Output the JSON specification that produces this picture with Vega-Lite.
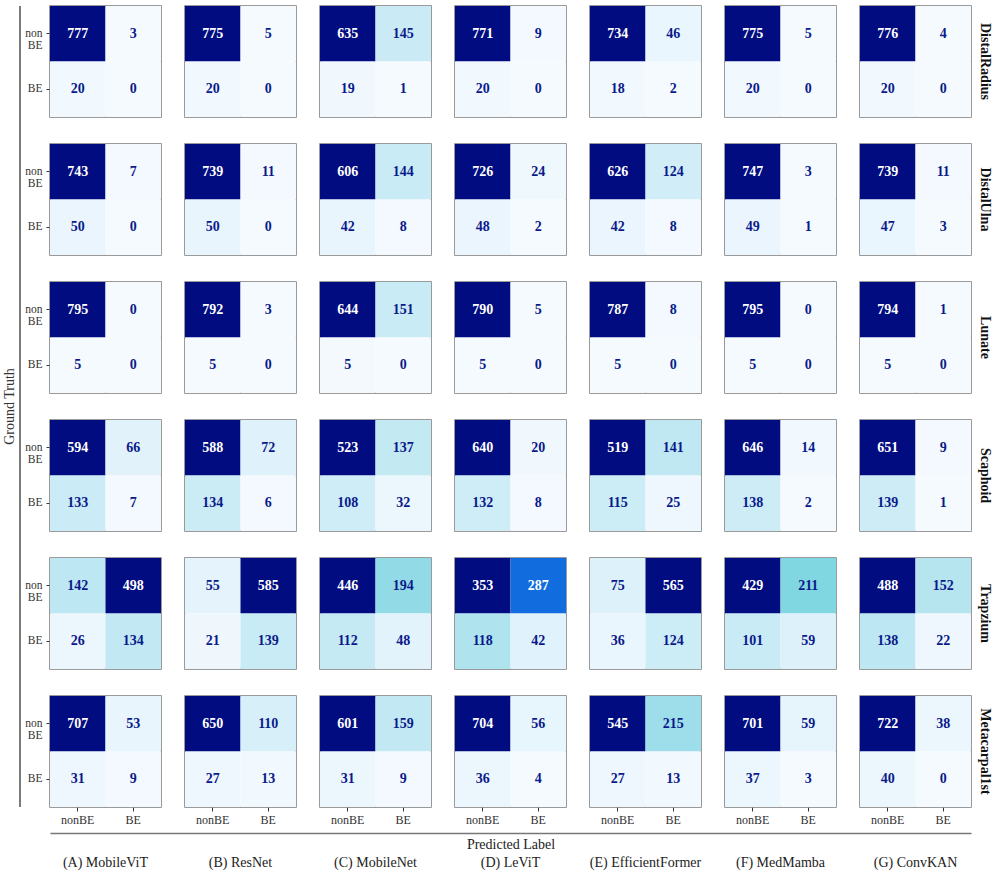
{
  "$schema": "https://vega.github.io/schema/vega-lite/v6.json",
  "padding": {"left": 3, "top": 5, "right": 4, "bottom": 4},
  "config": {
    "font": "Liberation Serif",
    "view": {"stroke": "#7a7a7a", "strokeWidth": 1.5},
    "axis": {"labelFont": "Liberation Serif", "titleFont": "Liberation Serif"}
  },
  "datasets": {
    "models": [
      {"model": "(A) MobileViT"}, {"model": "(B) ResNet"}, {"model": "(C) MobileNet"}, {"model": "(D) LeViT"},
      {"model": "(E) EfficientFormer"}, {"model": "(F) MedMamba"}, {"model": "(G) ConvKAN"}
    ],
    "cm": [
      {"region": "DistalRadius", "model": "(A) MobileViT", "truth": "nonBE", "pred": "nonBE", "count": 777},
      {"region": "DistalRadius", "model": "(A) MobileViT", "truth": "nonBE", "pred": "BE", "count": 3},
      {"region": "DistalRadius", "model": "(A) MobileViT", "truth": "BE", "pred": "nonBE", "count": 20},
      {"region": "DistalRadius", "model": "(A) MobileViT", "truth": "BE", "pred": "BE", "count": 0},
      {"region": "DistalRadius", "model": "(B) ResNet", "truth": "nonBE", "pred": "nonBE", "count": 775},
      {"region": "DistalRadius", "model": "(B) ResNet", "truth": "nonBE", "pred": "BE", "count": 5},
      {"region": "DistalRadius", "model": "(B) ResNet", "truth": "BE", "pred": "nonBE", "count": 20},
      {"region": "DistalRadius", "model": "(B) ResNet", "truth": "BE", "pred": "BE", "count": 0},
      {"region": "DistalRadius", "model": "(C) MobileNet", "truth": "nonBE", "pred": "nonBE", "count": 635},
      {"region": "DistalRadius", "model": "(C) MobileNet", "truth": "nonBE", "pred": "BE", "count": 145},
      {"region": "DistalRadius", "model": "(C) MobileNet", "truth": "BE", "pred": "nonBE", "count": 19},
      {"region": "DistalRadius", "model": "(C) MobileNet", "truth": "BE", "pred": "BE", "count": 1},
      {"region": "DistalRadius", "model": "(D) LeViT", "truth": "nonBE", "pred": "nonBE", "count": 771},
      {"region": "DistalRadius", "model": "(D) LeViT", "truth": "nonBE", "pred": "BE", "count": 9},
      {"region": "DistalRadius", "model": "(D) LeViT", "truth": "BE", "pred": "nonBE", "count": 20},
      {"region": "DistalRadius", "model": "(D) LeViT", "truth": "BE", "pred": "BE", "count": 0},
      {"region": "DistalRadius", "model": "(E) EfficientFormer", "truth": "nonBE", "pred": "nonBE", "count": 734},
      {"region": "DistalRadius", "model": "(E) EfficientFormer", "truth": "nonBE", "pred": "BE", "count": 46},
      {"region": "DistalRadius", "model": "(E) EfficientFormer", "truth": "BE", "pred": "nonBE", "count": 18},
      {"region": "DistalRadius", "model": "(E) EfficientFormer", "truth": "BE", "pred": "BE", "count": 2},
      {"region": "DistalRadius", "model": "(F) MedMamba", "truth": "nonBE", "pred": "nonBE", "count": 775},
      {"region": "DistalRadius", "model": "(F) MedMamba", "truth": "nonBE", "pred": "BE", "count": 5},
      {"region": "DistalRadius", "model": "(F) MedMamba", "truth": "BE", "pred": "nonBE", "count": 20},
      {"region": "DistalRadius", "model": "(F) MedMamba", "truth": "BE", "pred": "BE", "count": 0},
      {"region": "DistalRadius", "model": "(G) ConvKAN", "truth": "nonBE", "pred": "nonBE", "count": 776},
      {"region": "DistalRadius", "model": "(G) ConvKAN", "truth": "nonBE", "pred": "BE", "count": 4},
      {"region": "DistalRadius", "model": "(G) ConvKAN", "truth": "BE", "pred": "nonBE", "count": 20},
      {"region": "DistalRadius", "model": "(G) ConvKAN", "truth": "BE", "pred": "BE", "count": 0},

      {"region": "DistalUlna", "model": "(A) MobileViT", "truth": "nonBE", "pred": "nonBE", "count": 743},
      {"region": "DistalUlna", "model": "(A) MobileViT", "truth": "nonBE", "pred": "BE", "count": 7},
      {"region": "DistalUlna", "model": "(A) MobileViT", "truth": "BE", "pred": "nonBE", "count": 50},
      {"region": "DistalUlna", "model": "(A) MobileViT", "truth": "BE", "pred": "BE", "count": 0},
      {"region": "DistalUlna", "model": "(B) ResNet", "truth": "nonBE", "pred": "nonBE", "count": 739},
      {"region": "DistalUlna", "model": "(B) ResNet", "truth": "nonBE", "pred": "BE", "count": 11},
      {"region": "DistalUlna", "model": "(B) ResNet", "truth": "BE", "pred": "nonBE", "count": 50},
      {"region": "DistalUlna", "model": "(B) ResNet", "truth": "BE", "pred": "BE", "count": 0},
      {"region": "DistalUlna", "model": "(C) MobileNet", "truth": "nonBE", "pred": "nonBE", "count": 606},
      {"region": "DistalUlna", "model": "(C) MobileNet", "truth": "nonBE", "pred": "BE", "count": 144},
      {"region": "DistalUlna", "model": "(C) MobileNet", "truth": "BE", "pred": "nonBE", "count": 42},
      {"region": "DistalUlna", "model": "(C) MobileNet", "truth": "BE", "pred": "BE", "count": 8},
      {"region": "DistalUlna", "model": "(D) LeViT", "truth": "nonBE", "pred": "nonBE", "count": 726},
      {"region": "DistalUlna", "model": "(D) LeViT", "truth": "nonBE", "pred": "BE", "count": 24},
      {"region": "DistalUlna", "model": "(D) LeViT", "truth": "BE", "pred": "nonBE", "count": 48},
      {"region": "DistalUlna", "model": "(D) LeViT", "truth": "BE", "pred": "BE", "count": 2},
      {"region": "DistalUlna", "model": "(E) EfficientFormer", "truth": "nonBE", "pred": "nonBE", "count": 626},
      {"region": "DistalUlna", "model": "(E) EfficientFormer", "truth": "nonBE", "pred": "BE", "count": 124},
      {"region": "DistalUlna", "model": "(E) EfficientFormer", "truth": "BE", "pred": "nonBE", "count": 42},
      {"region": "DistalUlna", "model": "(E) EfficientFormer", "truth": "BE", "pred": "BE", "count": 8},
      {"region": "DistalUlna", "model": "(F) MedMamba", "truth": "nonBE", "pred": "nonBE", "count": 747},
      {"region": "DistalUlna", "model": "(F) MedMamba", "truth": "nonBE", "pred": "BE", "count": 3},
      {"region": "DistalUlna", "model": "(F) MedMamba", "truth": "BE", "pred": "nonBE", "count": 49},
      {"region": "DistalUlna", "model": "(F) MedMamba", "truth": "BE", "pred": "BE", "count": 1},
      {"region": "DistalUlna", "model": "(G) ConvKAN", "truth": "nonBE", "pred": "nonBE", "count": 739},
      {"region": "DistalUlna", "model": "(G) ConvKAN", "truth": "nonBE", "pred": "BE", "count": 11},
      {"region": "DistalUlna", "model": "(G) ConvKAN", "truth": "BE", "pred": "nonBE", "count": 47},
      {"region": "DistalUlna", "model": "(G) ConvKAN", "truth": "BE", "pred": "BE", "count": 3},

      {"region": "Lunate", "model": "(A) MobileViT", "truth": "nonBE", "pred": "nonBE", "count": 795},
      {"region": "Lunate", "model": "(A) MobileViT", "truth": "nonBE", "pred": "BE", "count": 0},
      {"region": "Lunate", "model": "(A) MobileViT", "truth": "BE", "pred": "nonBE", "count": 5},
      {"region": "Lunate", "model": "(A) MobileViT", "truth": "BE", "pred": "BE", "count": 0},
      {"region": "Lunate", "model": "(B) ResNet", "truth": "nonBE", "pred": "nonBE", "count": 792},
      {"region": "Lunate", "model": "(B) ResNet", "truth": "nonBE", "pred": "BE", "count": 3},
      {"region": "Lunate", "model": "(B) ResNet", "truth": "BE", "pred": "nonBE", "count": 5},
      {"region": "Lunate", "model": "(B) ResNet", "truth": "BE", "pred": "BE", "count": 0},
      {"region": "Lunate", "model": "(C) MobileNet", "truth": "nonBE", "pred": "nonBE", "count": 644},
      {"region": "Lunate", "model": "(C) MobileNet", "truth": "nonBE", "pred": "BE", "count": 151},
      {"region": "Lunate", "model": "(C) MobileNet", "truth": "BE", "pred": "nonBE", "count": 5},
      {"region": "Lunate", "model": "(C) MobileNet", "truth": "BE", "pred": "BE", "count": 0},
      {"region": "Lunate", "model": "(D) LeViT", "truth": "nonBE", "pred": "nonBE", "count": 790},
      {"region": "Lunate", "model": "(D) LeViT", "truth": "nonBE", "pred": "BE", "count": 5},
      {"region": "Lunate", "model": "(D) LeViT", "truth": "BE", "pred": "nonBE", "count": 5},
      {"region": "Lunate", "model": "(D) LeViT", "truth": "BE", "pred": "BE", "count": 0},
      {"region": "Lunate", "model": "(E) EfficientFormer", "truth": "nonBE", "pred": "nonBE", "count": 787},
      {"region": "Lunate", "model": "(E) EfficientFormer", "truth": "nonBE", "pred": "BE", "count": 8},
      {"region": "Lunate", "model": "(E) EfficientFormer", "truth": "BE", "pred": "nonBE", "count": 5},
      {"region": "Lunate", "model": "(E) EfficientFormer", "truth": "BE", "pred": "BE", "count": 0},
      {"region": "Lunate", "model": "(F) MedMamba", "truth": "nonBE", "pred": "nonBE", "count": 795},
      {"region": "Lunate", "model": "(F) MedMamba", "truth": "nonBE", "pred": "BE", "count": 0},
      {"region": "Lunate", "model": "(F) MedMamba", "truth": "BE", "pred": "nonBE", "count": 5},
      {"region": "Lunate", "model": "(F) MedMamba", "truth": "BE", "pred": "BE", "count": 0},
      {"region": "Lunate", "model": "(G) ConvKAN", "truth": "nonBE", "pred": "nonBE", "count": 794},
      {"region": "Lunate", "model": "(G) ConvKAN", "truth": "nonBE", "pred": "BE", "count": 1},
      {"region": "Lunate", "model": "(G) ConvKAN", "truth": "BE", "pred": "nonBE", "count": 5},
      {"region": "Lunate", "model": "(G) ConvKAN", "truth": "BE", "pred": "BE", "count": 0},

      {"region": "Scaphoid", "model": "(A) MobileViT", "truth": "nonBE", "pred": "nonBE", "count": 594},
      {"region": "Scaphoid", "model": "(A) MobileViT", "truth": "nonBE", "pred": "BE", "count": 66},
      {"region": "Scaphoid", "model": "(A) MobileViT", "truth": "BE", "pred": "nonBE", "count": 133},
      {"region": "Scaphoid", "model": "(A) MobileViT", "truth": "BE", "pred": "BE", "count": 7},
      {"region": "Scaphoid", "model": "(B) ResNet", "truth": "nonBE", "pred": "nonBE", "count": 588},
      {"region": "Scaphoid", "model": "(B) ResNet", "truth": "nonBE", "pred": "BE", "count": 72},
      {"region": "Scaphoid", "model": "(B) ResNet", "truth": "BE", "pred": "nonBE", "count": 134},
      {"region": "Scaphoid", "model": "(B) ResNet", "truth": "BE", "pred": "BE", "count": 6},
      {"region": "Scaphoid", "model": "(C) MobileNet", "truth": "nonBE", "pred": "nonBE", "count": 523},
      {"region": "Scaphoid", "model": "(C) MobileNet", "truth": "nonBE", "pred": "BE", "count": 137},
      {"region": "Scaphoid", "model": "(C) MobileNet", "truth": "BE", "pred": "nonBE", "count": 108},
      {"region": "Scaphoid", "model": "(C) MobileNet", "truth": "BE", "pred": "BE", "count": 32},
      {"region": "Scaphoid", "model": "(D) LeViT", "truth": "nonBE", "pred": "nonBE", "count": 640},
      {"region": "Scaphoid", "model": "(D) LeViT", "truth": "nonBE", "pred": "BE", "count": 20},
      {"region": "Scaphoid", "model": "(D) LeViT", "truth": "BE", "pred": "nonBE", "count": 132},
      {"region": "Scaphoid", "model": "(D) LeViT", "truth": "BE", "pred": "BE", "count": 8},
      {"region": "Scaphoid", "model": "(E) EfficientFormer", "truth": "nonBE", "pred": "nonBE", "count": 519},
      {"region": "Scaphoid", "model": "(E) EfficientFormer", "truth": "nonBE", "pred": "BE", "count": 141},
      {"region": "Scaphoid", "model": "(E) EfficientFormer", "truth": "BE", "pred": "nonBE", "count": 115},
      {"region": "Scaphoid", "model": "(E) EfficientFormer", "truth": "BE", "pred": "BE", "count": 25},
      {"region": "Scaphoid", "model": "(F) MedMamba", "truth": "nonBE", "pred": "nonBE", "count": 646},
      {"region": "Scaphoid", "model": "(F) MedMamba", "truth": "nonBE", "pred": "BE", "count": 14},
      {"region": "Scaphoid", "model": "(F) MedMamba", "truth": "BE", "pred": "nonBE", "count": 138},
      {"region": "Scaphoid", "model": "(F) MedMamba", "truth": "BE", "pred": "BE", "count": 2},
      {"region": "Scaphoid", "model": "(G) ConvKAN", "truth": "nonBE", "pred": "nonBE", "count": 651},
      {"region": "Scaphoid", "model": "(G) ConvKAN", "truth": "nonBE", "pred": "BE", "count": 9},
      {"region": "Scaphoid", "model": "(G) ConvKAN", "truth": "BE", "pred": "nonBE", "count": 139},
      {"region": "Scaphoid", "model": "(G) ConvKAN", "truth": "BE", "pred": "BE", "count": 1},

      {"region": "Trapzium", "model": "(A) MobileViT", "truth": "nonBE", "pred": "nonBE", "count": 142},
      {"region": "Trapzium", "model": "(A) MobileViT", "truth": "nonBE", "pred": "BE", "count": 498},
      {"region": "Trapzium", "model": "(A) MobileViT", "truth": "BE", "pred": "nonBE", "count": 26},
      {"region": "Trapzium", "model": "(A) MobileViT", "truth": "BE", "pred": "BE", "count": 134},
      {"region": "Trapzium", "model": "(B) ResNet", "truth": "nonBE", "pred": "nonBE", "count": 55},
      {"region": "Trapzium", "model": "(B) ResNet", "truth": "nonBE", "pred": "BE", "count": 585},
      {"region": "Trapzium", "model": "(B) ResNet", "truth": "BE", "pred": "nonBE", "count": 21},
      {"region": "Trapzium", "model": "(B) ResNet", "truth": "BE", "pred": "BE", "count": 139},
      {"region": "Trapzium", "model": "(C) MobileNet", "truth": "nonBE", "pred": "nonBE", "count": 446},
      {"region": "Trapzium", "model": "(C) MobileNet", "truth": "nonBE", "pred": "BE", "count": 194},
      {"region": "Trapzium", "model": "(C) MobileNet", "truth": "BE", "pred": "nonBE", "count": 112},
      {"region": "Trapzium", "model": "(C) MobileNet", "truth": "BE", "pred": "BE", "count": 48},
      {"region": "Trapzium", "model": "(D) LeViT", "truth": "nonBE", "pred": "nonBE", "count": 353},
      {"region": "Trapzium", "model": "(D) LeViT", "truth": "nonBE", "pred": "BE", "count": 287},
      {"region": "Trapzium", "model": "(D) LeViT", "truth": "BE", "pred": "nonBE", "count": 118},
      {"region": "Trapzium", "model": "(D) LeViT", "truth": "BE", "pred": "BE", "count": 42},
      {"region": "Trapzium", "model": "(E) EfficientFormer", "truth": "nonBE", "pred": "nonBE", "count": 75},
      {"region": "Trapzium", "model": "(E) EfficientFormer", "truth": "nonBE", "pred": "BE", "count": 565},
      {"region": "Trapzium", "model": "(E) EfficientFormer", "truth": "BE", "pred": "nonBE", "count": 36},
      {"region": "Trapzium", "model": "(E) EfficientFormer", "truth": "BE", "pred": "BE", "count": 124},
      {"region": "Trapzium", "model": "(F) MedMamba", "truth": "nonBE", "pred": "nonBE", "count": 429},
      {"region": "Trapzium", "model": "(F) MedMamba", "truth": "nonBE", "pred": "BE", "count": 211},
      {"region": "Trapzium", "model": "(F) MedMamba", "truth": "BE", "pred": "nonBE", "count": 101},
      {"region": "Trapzium", "model": "(F) MedMamba", "truth": "BE", "pred": "BE", "count": 59},
      {"region": "Trapzium", "model": "(G) ConvKAN", "truth": "nonBE", "pred": "nonBE", "count": 488},
      {"region": "Trapzium", "model": "(G) ConvKAN", "truth": "nonBE", "pred": "BE", "count": 152},
      {"region": "Trapzium", "model": "(G) ConvKAN", "truth": "BE", "pred": "nonBE", "count": 138},
      {"region": "Trapzium", "model": "(G) ConvKAN", "truth": "BE", "pred": "BE", "count": 22},

      {"region": "Metacarpal1st", "model": "(A) MobileViT", "truth": "nonBE", "pred": "nonBE", "count": 707},
      {"region": "Metacarpal1st", "model": "(A) MobileViT", "truth": "nonBE", "pred": "BE", "count": 53},
      {"region": "Metacarpal1st", "model": "(A) MobileViT", "truth": "BE", "pred": "nonBE", "count": 31},
      {"region": "Metacarpal1st", "model": "(A) MobileViT", "truth": "BE", "pred": "BE", "count": 9},
      {"region": "Metacarpal1st", "model": "(B) ResNet", "truth": "nonBE", "pred": "nonBE", "count": 650},
      {"region": "Metacarpal1st", "model": "(B) ResNet", "truth": "nonBE", "pred": "BE", "count": 110},
      {"region": "Metacarpal1st", "model": "(B) ResNet", "truth": "BE", "pred": "nonBE", "count": 27},
      {"region": "Metacarpal1st", "model": "(B) ResNet", "truth": "BE", "pred": "BE", "count": 13},
      {"region": "Metacarpal1st", "model": "(C) MobileNet", "truth": "nonBE", "pred": "nonBE", "count": 601},
      {"region": "Metacarpal1st", "model": "(C) MobileNet", "truth": "nonBE", "pred": "BE", "count": 159},
      {"region": "Metacarpal1st", "model": "(C) MobileNet", "truth": "BE", "pred": "nonBE", "count": 31},
      {"region": "Metacarpal1st", "model": "(C) MobileNet", "truth": "BE", "pred": "BE", "count": 9},
      {"region": "Metacarpal1st", "model": "(D) LeViT", "truth": "nonBE", "pred": "nonBE", "count": 704},
      {"region": "Metacarpal1st", "model": "(D) LeViT", "truth": "nonBE", "pred": "BE", "count": 56},
      {"region": "Metacarpal1st", "model": "(D) LeViT", "truth": "BE", "pred": "nonBE", "count": 36},
      {"region": "Metacarpal1st", "model": "(D) LeViT", "truth": "BE", "pred": "BE", "count": 4},
      {"region": "Metacarpal1st", "model": "(E) EfficientFormer", "truth": "nonBE", "pred": "nonBE", "count": 545},
      {"region": "Metacarpal1st", "model": "(E) EfficientFormer", "truth": "nonBE", "pred": "BE", "count": 215},
      {"region": "Metacarpal1st", "model": "(E) EfficientFormer", "truth": "BE", "pred": "nonBE", "count": 27},
      {"region": "Metacarpal1st", "model": "(E) EfficientFormer", "truth": "BE", "pred": "BE", "count": 13},
      {"region": "Metacarpal1st", "model": "(F) MedMamba", "truth": "nonBE", "pred": "nonBE", "count": 701},
      {"region": "Metacarpal1st", "model": "(F) MedMamba", "truth": "nonBE", "pred": "BE", "count": 59},
      {"region": "Metacarpal1st", "model": "(F) MedMamba", "truth": "BE", "pred": "nonBE", "count": 37},
      {"region": "Metacarpal1st", "model": "(F) MedMamba", "truth": "BE", "pred": "BE", "count": 3},
      {"region": "Metacarpal1st", "model": "(G) ConvKAN", "truth": "nonBE", "pred": "nonBE", "count": 722},
      {"region": "Metacarpal1st", "model": "(G) ConvKAN", "truth": "nonBE", "pred": "BE", "count": 38},
      {"region": "Metacarpal1st", "model": "(G) ConvKAN", "truth": "BE", "pred": "nonBE", "count": 40},
      {"region": "Metacarpal1st", "model": "(G) ConvKAN", "truth": "BE", "pred": "BE", "count": 0}
    ]
  },
  "spacing": 3,
  "hconcat": [
    {
      "data": {"values": [{"v": 0}]},
      "width": 1,
      "height": 801,
      "view": {"stroke": null},
      "title": {"text": "Ground Truth", "orient": "left", "fontSize": 14, "fontWeight": "normal", "font": "Liberation Serif", "color": "#333", "offset": 2},
      "mark": {"type": "rule", "color": "#222", "strokeWidth": 1.2},
      "encoding": {"x": {"field": "v", "type": "quantitative", "axis": null, "scale": {"domain": [0, 1]}}}
    },
    {
      "spacing": 4,
      "vconcat": [
        {
          "data": {"name": "cm"},
          "transform": [
            {"joinaggregate": [{"op": "max", "field": "count", "as": "mx"}], "groupby": ["region", "model"]},
            {"calculate": "datum.count / datum.mx", "as": "ratio"}
          ],
          "bounds": "flush",
          "facet": {
            "row": {
              "field": "region", "type": "nominal",
              "sort": ["DistalRadius", "DistalUlna", "Lunate", "Scaphoid", "Trapzium", "Metacarpal1st"],
              "header": {"title": null, "labelOrient": "right", "labelFont": "Liberation Serif", "labelFontWeight": "bold", "labelFontSize": 14, "labelColor": "#111", "labelPadding": 7}
            },
            "column": {
              "field": "model", "type": "nominal",
              "sort": ["(A) MobileViT", "(B) ResNet", "(C) MobileNet", "(D) LeViT", "(E) EfficientFormer", "(F) MedMamba", "(G) ConvKAN"],
              "header": {"title": null, "labels": false}
            }
          },
          "spacing": {"row": 27, "column": 24},
          "spec": {
            "width": 111,
            "height": 111,
            "encoding": {
              "x": {"field": "pred", "type": "nominal", "sort": ["nonBE", "BE"],
                "axis": {"title": null, "domain": false, "labelAngle": 0, "tickSize": 4, "tickColor": "#333", "labelPadding": 3, "labelFont": "Liberation Serif", "labelFontSize": 12, "labelColor": "#333"}},
              "y": {"field": "truth", "type": "nominal", "sort": ["nonBE", "BE"],
                "axis": {"title": null, "domain": false, "tickSize": 4, "tickColor": "#333", "labelPadding": 4, "labelFont": "Liberation Serif", "labelFontSize": 11.5, "labelColor": "#333", "labelLineHeight": 12, "minExtent": 25,
                  "labelExpr": "datum.value == 'nonBE' ? ['non', 'BE'] : 'BE'"}}
            },
            "layer": [
              {
                "mark": {"type": "rect"},
                "encoding": {
                  "color": {"field": "ratio", "type": "quantitative", "legend": null,
                    "scale": {"domain": [0, 0.25, 0.5, 0.75, 1], "range": ["#f5fafe", "#c6eaf4", "#7ed6e0", "#1e8cfc", "#000c7f"]}}
                }
              },
              {
                "mark": {"type": "text", "font": "Liberation Serif", "fontSize": 14, "fontWeight": "bold"},
                "encoding": {
                  "text": {"field": "count", "type": "quantitative"},
                  "color": {"condition": {"test": "datum.ratio > 0.6", "value": "#ffffff"}, "value": "#0a1a8a"}
                }
              }
            ]
          }
        },
        {
          "data": {"name": "models"},
          "width": 921,
          "height": 1,
          "view": {"stroke": null},
          "mark": {"type": "point", "opacity": 0},
          "encoding": {
            "x": {"field": "model", "type": "nominal",
              "sort": ["(A) MobileViT", "(B) ResNet", "(C) MobileNet", "(D) LeViT", "(E) EfficientFormer", "(F) MedMamba", "(G) ConvKAN"],
              "scale": {"type": "band", "paddingInner": 0.178, "paddingOuter": 0},
              "axis": {"orient": "bottom", "domain": true, "domainColor": "#777", "domainWidth": 1.5, "ticks": false, "labelAngle": 0, "labelPadding": 22, "labelFont": "Liberation Serif", "labelFontSize": 14, "labelColor": "#222",
                "title": "Predicted Label", "titleFont": "Liberation Serif", "titleFontSize": 14, "titleFontWeight": "normal", "titleColor": "#222", "titleY": 11, "titleBaseline": "middle"}},
            "y": {"datum": "a", "type": "nominal",
              "axis": {"labels": false, "ticks": false, "domain": false, "title": null, "minExtent": 25, "maxExtent": 25}}
          }
        }
      ]
    }
  ]
}
